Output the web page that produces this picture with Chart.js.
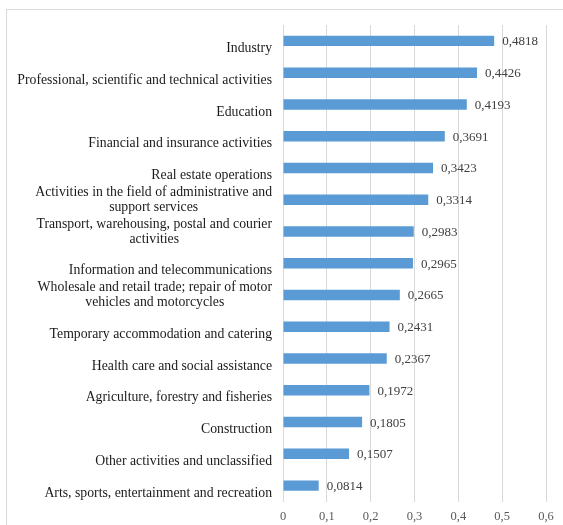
<!DOCTYPE html>
<html>
<head>
<meta charset="utf-8">
<script src="https://cdn.jsdelivr.net/npm/chart.js@4"></script>
<style>
  body { margin: 0; background: #fff; overflow: hidden; }
  #wrap { position: relative; width: 563px; height: 525px; }
  #frame { position: absolute; left: 6px; top: 9px; width: 600px; height: 600px; border: 1px solid #d9d9d9; }
  canvas { position: absolute; left: 0; top: 0; }
</style>
</head>
<body>
<div id="wrap">
  <div id="frame"></div>
  <canvas id="chart" width="563" height="525"></canvas>
</div>
<script>
const categories = [
  "Industry",
  "Professional, scientific and technical activities",
  "Education",
  "Financial and insurance activities",
  "Real estate operations",
  ["Activities in the field of administrative and", "support services"],
  ["Transport, warehousing, postal and courier", "activities"],
  "Information and telecommunications",
  ["Wholesale and retail trade; repair of motor", "vehicles and motorcycles"],
  "Temporary accommodation and catering",
  "Health care and social assistance",
  "Agriculture, forestry and fisheries",
  "Construction",
  "Other activities and unclassified",
  "Arts, sports, entertainment and recreation"
];
const values = [0.4818, 0.4426, 0.4193, 0.3691, 0.3423, 0.3314, 0.2983, 0.2965, 0.2665, 0.2431, 0.2367, 0.1972, 0.1805, 0.1507, 0.0814];
const xTicks = ["0", "0,1", "0,2", "0,3", "0,4", "0,5", "0,6"];

const serif = "'Liberation Serif', 'Times New Roman', serif";

// value labels at the end of each bar
const valueLabels = {
  id: "valueLabels",
  afterDatasetsDraw(chart) {
    const ctx = chart.ctx;
    const meta = chart.getDatasetMeta(0);
    ctx.save();
    ctx.font = "13px " + serif;
    ctx.fillStyle = "#404040";
    ctx.textBaseline = "middle";
    ctx.textAlign = "left";
    meta.data.forEach((bar, i) => {
      ctx.fillText(values[i].toFixed(4).replace(".", ","), bar.x + 8, bar.y + 1);
    });
    ctx.restore();
  }
};

// category labels: wrapped lines are centred on each other, like Excel does
const categoryLabels = {
  id: "categoryLabels",
  afterDraw(chart) {
    const ctx = chart.ctx;
    const ys = chart.scales.y;
    const right = ys.right - 11;
    const lh = 15;
    ctx.save();
    ctx.font = "13.75px " + serif;
    ctx.fillStyle = "#1a1a1a";
    ctx.textBaseline = "middle";
    ctx.textAlign = "center";
    categories.forEach((l, i) => {
      const lines = Array.isArray(l) ? l : ["", l];
      const w = Math.max(...lines.map((t) => ctx.measureText(t).width));
      const cx = right - w / 2;
      const y0 = ys.getPixelForTick(i) - (lines.length - 1) * lh / 2;
      lines.forEach((t, k) => ctx.fillText(t, cx, y0 + k * lh));
    });
    ctx.restore();
  }
};

new Chart(document.getElementById("chart"), {
  type: "bar",
  data: {
    labels: categories,
    datasets: [{
      data: values,
      backgroundColor: "#5b9bd5",
      borderWidth: 0,
      categoryPercentage: 1,
      barPercentage: 0.33
    }]
  },
  options: {
    indexAxis: "y",
    responsive: false,
    animation: false,
    layout: { padding: { top: 25, right: 17, bottom: 0, left: 0 } },
    plugins: { legend: { display: false }, tooltip: { enabled: false } },
    scales: {
      x: {
        min: 0,
        max: 0.6,
        ticks: {
          stepSize: 0.1,
          padding: 7.5,
          color: "#595959",
          font: { family: serif, size: 12.5 },
          callback: (v, i) => xTicks[i]
        },
        grid: { color: "#d9d9d9", drawTicks: false },
        border: { display: false },
        afterFit: (s) => { s.height = 23.5; }
      },
      y: {
        ticks: { display: false },
        grid: { display: false, drawTicks: false },
        border: { display: true, color: "#d9d9d9" },
        afterFit: (s) => { s.width = 283; }
      }
    }
  },
  plugins: [valueLabels, categoryLabels]
});
</script>
</body>
</html>
